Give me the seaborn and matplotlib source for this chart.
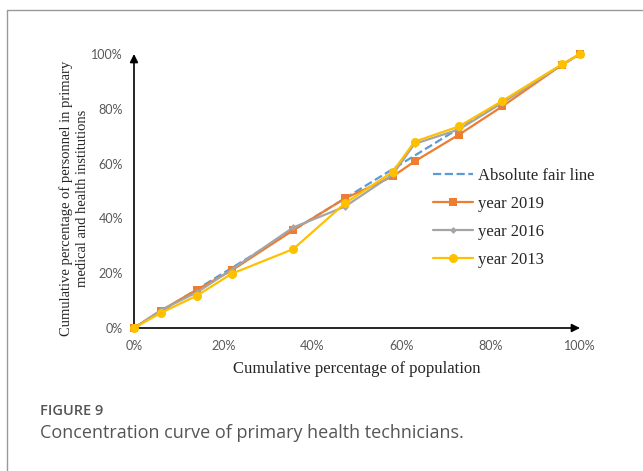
import matplotlib.pyplot as plt
import seaborn as sns
import pandas as pd
from matplotlib.lines import Line2D
from matplotlib.ticker import FuncFormatter

sns.set_style('white')
plt.rcParams['font.family'] = ['Liberation Serif', 'DejaVu Serif']

# cumulative population share (%) and personnel share (%) per year
pop_pct = [0, 6, 14.1, 21.9, 35.7, 47.3, 58, 62.9, 72.9, 82.6, 95.9, 100]
fair_line = pop_pct
year_2019 = [0, 6.3, 14, 21, 35.7, 47.3, 55.3, 60.8, 70.6, 80.9, 96, 100]
year_2016 = [0, 6.5, 13, 21.3, 36.7, 44.3, 56, 67.2, 72.5, 82.2, 96, 100]
year_2013 = [0, 5.5, 11.8, 19.8, 28.8, 45.5, 57, 68, 73.6, 82.9, 96.2, 100]
tick_vals = [0, 20, 40, 60, 80, 100]

series = [
    ('Absolute fair line', fair_line, '#5B9BD5', None, 0, '--'),
    ('year 2019', year_2019, '#ED7D31', 's', 6, '-'),
    ('year 2016', year_2016, '#A5A5A5', 'D', 3.5, '-'),
    ('year 2013', year_2013, '#FFC000', 'o', 6.5, '-'),
]

fig = plt.figure(figsize=(6.43, 4.71), dpi=100)
ax = fig.add_axes([134 / 643, 1 - 328 / 471, 446 / 643, 274 / 471])

for name, vals, color, marker, ms, ls in series:
    df = pd.DataFrame({'x': pop_pct, 'y': vals})
    sns.lineplot(data=df, x='x', y='y', ax=ax, color=color, marker=marker,
                 markersize=ms, markeredgewidth=0, linewidth=1.6,
                 linestyle=ls, label=name, clip_on=False, zorder=3)

ax.set_xlim(0, 100)
ax.set_ylim(0, 100)
ax.set_xticks(tick_vals)
ax.set_yticks(tick_vals)
pct = FuncFormatter(lambda v, _: f'{int(v)}%')
ax.xaxis.set_major_formatter(pct)
ax.yaxis.set_major_formatter(pct)
ax.tick_params(length=0, labelsize=9, labelcolor='#595959')
ax.tick_params(axis='x', pad=9)
ax.tick_params(axis='y', pad=8)
for lab in ax.get_xticklabels() + ax.get_yticklabels():
    lab.set_family(['Lato', 'DejaVu Sans'])

for sp in ax.spines.values():
    sp.set_visible(False)
arrow = dict(arrowstyle='-|>', color='black', lw=1.2, mutation_scale=12,
             shrinkA=0, shrinkB=0)
ax.annotate('', xy=(1, 0), xytext=(0, 0), xycoords='axes fraction',
            arrowprops=arrow, zorder=1)
ax.annotate('', xy=(0, 1), xytext=(0, 0), xycoords='axes fraction',
            arrowprops=arrow, zorder=1)

ax.set_xlabel('Cumulative percentage of population', fontsize=12, labelpad=6)
ax.set_ylabel('')
fig.text(74 / 643, 1 - 198 / 471,
         'Cumulative percentage of personnel in primary\nmedical and health institutions',
         rotation=90, ha='center', va='center', fontsize=10.5, linespacing=1.3)

ax.legend(loc='center left', bbox_to_anchor=(433 / 643, 1 - 218 / 471),
          bbox_transform=fig.transFigure, frameon=False, fontsize=12,
          handlelength=2.4, handletextpad=0.3, labelspacing=0.72,
          borderpad=0, borderaxespad=0)

# caption and card border
fig.text(40 / 643, 1 - 411 / 471, 'FIGURE 9', fontsize=10.5, color='#555555',
         family=['Open Sans', 'DejaVu Sans'], weight='semibold', va='center')
fig.text(40 / 643, 1 - 433 / 471, 'Concentration curve of primary health technicians.',
         fontsize=13, color='#555555', family=['Open Sans', 'DejaVu Sans'],
         va='center')
fig.add_artist(Line2D([7 / 643, 7 / 643], [0, 1 - 10 / 471],
                      transform=fig.transFigure, color='#999999', lw=1))
fig.add_artist(Line2D([7 / 643, 1], [1 - 10 / 471, 1 - 10 / 471],
                      transform=fig.transFigure, color='#999999', lw=1))

fig.savefig('out.png', dpi=100)
